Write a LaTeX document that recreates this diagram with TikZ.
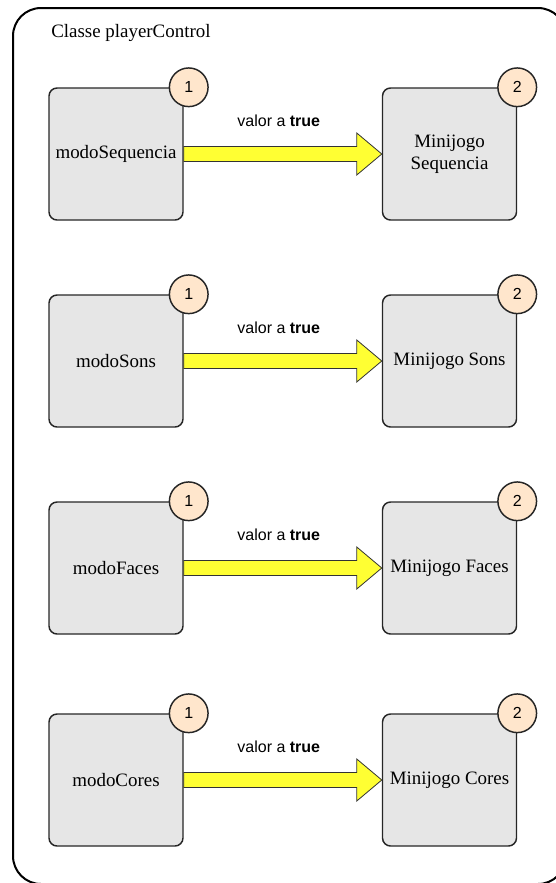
\documentclass[tikz,border=0pt]{standalone}
\usepackage{fontspec}
\setmainfont{Liberation Serif}
\setsansfont{Liberation Sans}
\usetikzlibrary{positioning,calc}

\definecolor{boxgray}{HTML}{E6E6E6}
\definecolor{badgepeach}{HTML}{FFE6CC}
\definecolor{arrowyellow}{HTML}{FFFF33}

\tikzset{
  modebox/.style={draw=black!85, line width=1.1pt, fill=boxgray, rounded corners=6pt,
    minimum width=100.5pt, minimum height=99pt, inner sep=1pt, align=center,
    font=\fontsize{14.2}{16.2}\selectfont},
  badge/.style={circle, draw=black!85, line width=1.1pt, fill=badgepeach,
    minimum size=29pt, inner sep=0pt, font=\sffamily\fontsize{12}{12}\selectfont},
  fatarrow/.style={draw=black!80, line width=0.6pt, fill=arrowyellow, line join=miter},
  arrowlabel/.style={font=\sffamily\fontsize{12}{12}\selectfont, inner sep=0pt},
}

\begin{document}
\begin{tikzpicture}[x=0.75pt,y=-0.75pt]
\useasboundingbox (0,0) rectangle (556,883);

% The outer frame (cut by the page on the right and bottom)
\begin{scope}
\clip (0,0) rectangle (556,883);
\draw[line width=1.5pt, rounded corners=21pt] (13,8) rectangle (566,884);
\end{scope}
\node[anchor=base west, inner sep=0pt, font=\fontsize{14.2}{16.2}\selectfont] (title) at (51,37) {Classe playerControl};

% The four rows: mode -> minigame
\foreach \i/\y/\mode/\game in {1/154/modoSequencia/{Minijogo\\Sequencia},
    2/361/modoSons/{Minijogo Sons}, 3/568/modoFaces/{Minijogo Faces},
    4/780/modoCores/{Minijogo Cores}}{
    \node[modebox] (m\i) at (116,\y) {\mode};
    \node[modebox] (g\i) at (449.5,\y) {\game};
    \node[badge] (b\i) at ($(m\i.north east)+(5,0)$) {1};
    \node[badge] (c\i) at ($(g\i.north east)+(0,0)$) {2};
    \draw[fatarrow] (m\i.east) ++(0,-7.5) -- ($(g\i.west)+(-25,-7.5)$) -- ++(0,-13.5)
        -- (g\i.west) -- ($(g\i.west)+(-25,21)$) -- ++(0,-13.5) -- ($(m\i.east)+(0,7.5)$) -- cycle;
    \node[arrowlabel] (v\i) at ($(m\i.east)!0.48!(g\i.west)+(0,-33)$) {valor a \textbf{true}};
}

\end{tikzpicture}
\end{document}
